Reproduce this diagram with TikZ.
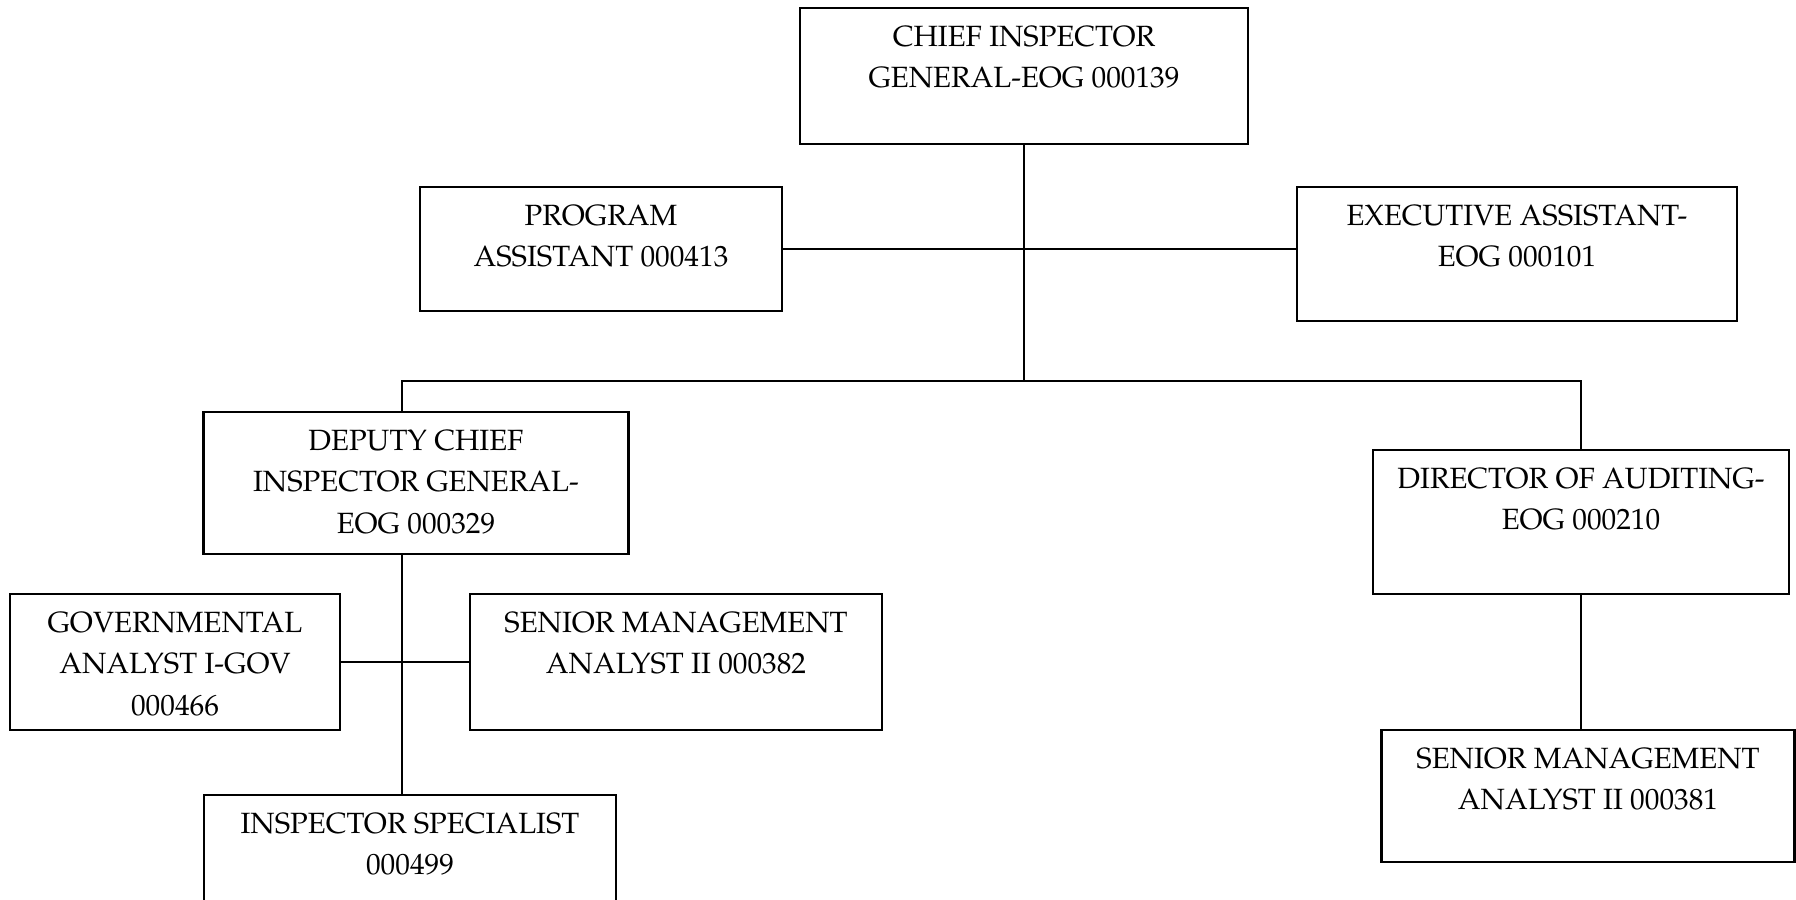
\documentclass[tikz,border=0pt]{standalone}
\usepackage[T1]{fontenc}
\usepackage{mathpazo}
\usepackage{tikz}
\usetikzlibrary{positioning}
\newlength{\pxu}
\setlength{\pxu}{0.015cm}
% text block of a box: width, height, lines
\newcommand{\post}[3]{\parbox[t][\dimexpr #2\pxu-36\pxu\relax][t]{#1\pxu}{\centering #3}}
\tikzset {
  x=0.015cm, y=-0.015cm,
  % boxes of the chart
  main/.style = {draw, line width=0.9pt, anchor=north, inner xsep=0pt, inner ysep=0.27cm,
    font=\fontsize{12.5}{17.7}\selectfont},
  % lines between the boxes
  link/.style = {line width=0.9pt},
}

\begin{document}
\begin{tikzpicture}
        \useasboundingbox (0,0) rectangle (1796,900);

        \node[main] (chief) at (1024,7) {\post{448}{136}{CHIEF INSPECTOR\\GENERAL-EOG 000139}};
        \node[main] (prog) at (601,186) {\post{362}{124}{PROGRAM\\ASSISTANT 000413}};
        \node[main] (exec) at (1517,186) {\post{440}{134}{EXECUTIVE ASSISTANT-\\EOG 000101}};
        \node[main] (deputy) at (416,411) {\post{425}{142}{DEPUTY CHIEF\\INSPECTOR GENERAL-\\EOG 000329}};
        \node[main] (director) at (1581,449) {\post{416}{144}{DIRECTOR OF AUDITING-\\EOG 000210}};
        \node[main] (gov) at (175,593) {\post{330}{136}{GOVERNMENTAL\\ANALYST I-GOV\\000466}};
        \node[main] (sma382) at (676,593) {\post{412}{136}{SENIOR MANAGEMENT\\ANALYST II 000382}};
        \node[main] (sma381) at (1588,729) {\post{413}{132}{SENIOR MANAGEMENT\\ANALYST II 000381}};
        \node[main] (insp) at (410,794) {\post{412}{112}{INSPECTOR SPECIALIST\\000499}};

        \coordinate (bus) at (402,381);

        \draw [link] (chief.south) -- (chief.south |- bus);
        \draw [link] (prog.east) -- (prog.east -| exec.west);
        \draw [link] (bus |- deputy.north) -- (bus) -- (bus -| director.north) -- (director.north);
        \draw [link] (bus |- deputy.south) -- (bus |- insp.north);
        \draw [link] (gov.east) -- (sma382.west);
        \draw [link] (director.south) -- (director.south |- sma381.north);
      \end{tikzpicture}
\end{document}
